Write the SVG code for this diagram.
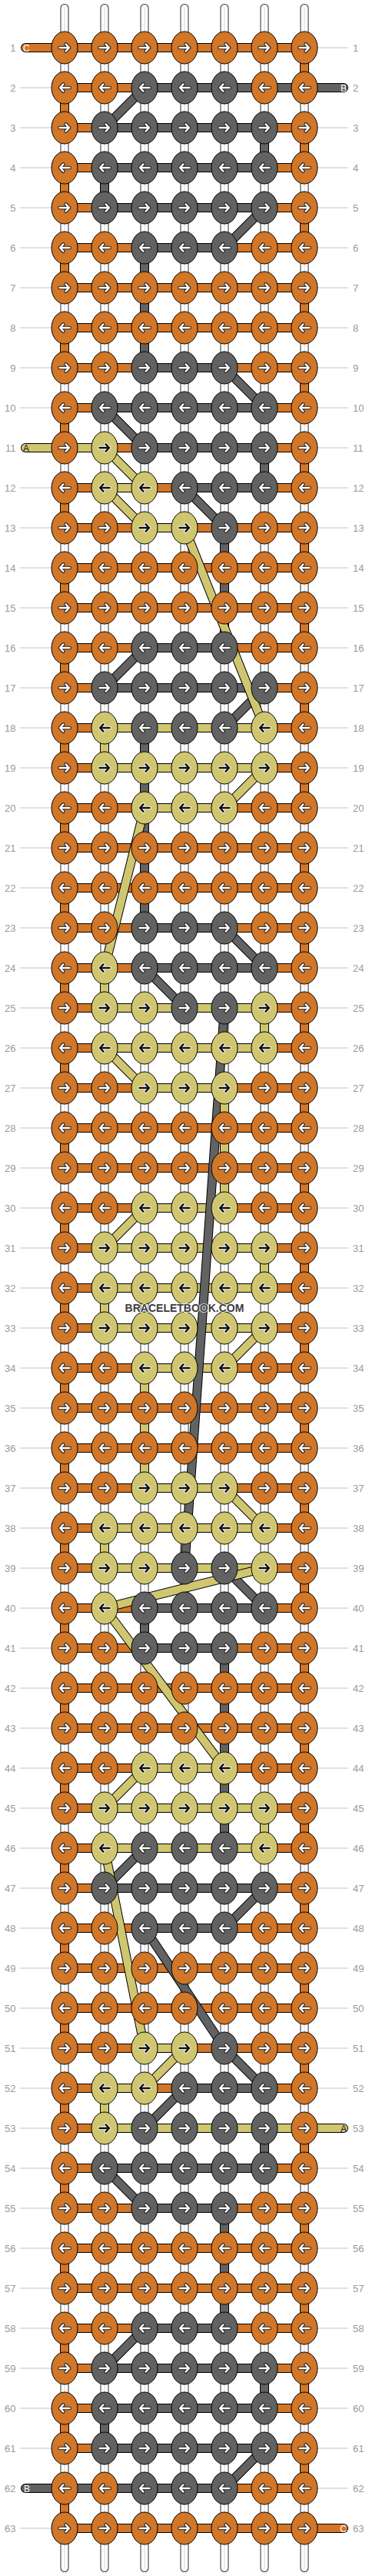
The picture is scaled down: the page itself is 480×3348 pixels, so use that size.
<svg xmlns="http://www.w3.org/2000/svg" width="480" height="3348" viewBox="0 0 480 3348">
<style>
.lbl{font-family:"Liberation Sans",Arial,sans-serif;font-size:13px;fill:#9a9a9a}
.guide{fill:none;stroke:#c4c4c4;stroke-width:1}
.s{fill:none;stroke-linecap:round;stroke-linejoin:round}
.wb{stroke:#2a2a2a;stroke-width:11}
.ww{stroke:#fff;stroke-width:9}
.wc{stroke:#d4d4d4;stroke-width:1}
.ob{stroke:#000;stroke-width:12}
.cO{stroke:#D27628;stroke-width:10}
.cG{stroke:#626262;stroke-width:10}
.cY{stroke:#D0C670;stroke-width:10}
.kO{fill:#D27628;stroke:#000;stroke-width:1}
.kG{fill:#626262;stroke:#000;stroke-width:1}
.kY{fill:#D0C670;stroke:#000;stroke-width:1}
.ao{fill:none;stroke:#1a1a1a;stroke-width:4.6;stroke-linecap:round;stroke-linejoin:round}
.ai{fill:none;stroke:#fff;stroke-width:2.4;stroke-linecap:round;stroke-linejoin:round}
.yo{fill:none;stroke:#fff;stroke-width:4.4;stroke-linecap:round;stroke-linejoin:round}
.yi{fill:none;stroke:#111;stroke-width:2.5;stroke-linecap:round;stroke-linejoin:round}
.tl{font-family:"Liberation Sans",Arial,sans-serif;font-size:12px}
</style>
<defs>
<path id="ar" d="M-6.5,0H6M1.6,-4.6L6,0L1.6,4.6"/>
<path id="al" d="M6.5,0H-6M-1.6,-4.6L-6,0L-1.6,4.6"/>
<g id="OR"><ellipse rx="17" ry="21" class="kO"/><use href="#ar" class="ao"/><use href="#ar" class="ai"/></g>
<g id="OL"><ellipse rx="17" ry="21" class="kO"/><use href="#al" class="ao"/><use href="#al" class="ai"/></g>
<g id="GR"><ellipse rx="17" ry="21" class="kG"/><use href="#ar" class="ao"/><use href="#ar" class="ai"/></g>
<g id="GL"><ellipse rx="17" ry="21" class="kG"/><use href="#al" class="ao"/><use href="#al" class="ai"/></g>
<g id="YR"><ellipse rx="17" ry="21" class="kY"/><use href="#ar" class="yo"/><use href="#ar" class="yi"/></g>
<g id="YL"><ellipse rx="17" ry="21" class="kY"/><use href="#al" class="yo"/><use href="#al" class="yi"/></g>
<path id="pW" d="M84,10.5V3337.5M136,10.5V3337.5M188,10.5V3337.5M240,10.5V3337.5M292,10.5V3337.5M344,10.5V3337.5M396,10.5V3337.5"/>
<path id="pO" d="M33 62H396V114H84V166H396V218H84V270H396V322H84V374H396V426H84V478H396V530H84V582H396V634H84V686H396V738H84V790H396V842H84V894H396V946H84V998H396V1050H84V1102H396V1154H84V1206H396V1258H84V1310H396V1362H84V1414H396V1466H84V1518H396V1570H84V1622H396V1674H84V1726H396V1778H84V1830H396V1882H84V1934H396V1986H84V2038H396V2090H84V2142H396V2194H84V2246H396V2298H84V2350H396V2402H84V2454H396V2506H84V2558H396V2610H84V2662H396V2714H84V2766H396V2818H84V2870H396V2922H84V2974H396V3026H84V3078H396V3130H84V3182H396V3234H84V3286H447"/>
<path id="pGh" d="M447 114H188M136 166H344M344 218H136M136 270H344M292 322H188M188 478H292M344 530H136M188 582H344M344 634H240M292 842H188M136 894H344M292 946H188M188 1206H292M344 1258H188M240 1310H292M240 2038H292M344 2090H188M188 2142H292M292 2402H188M136 2454H344M292 2506H188M344 2714H240M188 2766H344M344 2818H136M188 2870H292M292 3026H188M136 3078H344M344 3130H136M136 3182H344M292 3234H33"/>
<path id="pYh" d="M33 582H136M188 634H136M188 686H240M344 946H136M136 998H344M292 1050H188M136 1310H344M344 1362H136M188 1414H292M292 1570H188M136 1622H344M344 1674H136M136 1726H344M292 1778H188M188 1934H292M344 1986H136M136 2038H344M292 2298H188M136 2350H344M344 2402H136M188 2662H240M188 2714H136M136 2766H447"/>
<path id="pGd" d="M188 114L136 166M344 166V218M136 218V270M344 270L292 322M188 322V478M292 478L344 530M136 530L188 582M344 582V634M240 634L292 686M292 686V842M188 842L136 894M344 894L292 946M188 946V1206M292 1206L344 1258M188 1258L240 1310M292 1310L240 2038M292 2038L344 2090M188 2090V2142M292 2142V2402M188 2402L136 2454M344 2454L292 2506M188 2506L292 2662M292 2662L344 2714M240 2714L188 2766M344 2766V2818M136 2818L188 2870M292 2870V3026M188 3026L136 3078M344 3078V3130M136 3130V3182M344 3182L292 3234"/>
<path id="pYd" d="M136 582L188 634M136 634L188 686M240 686L344 946M136 946V998M344 998L292 1050M188 1050L136 1258M136 1258V1310M344 1310V1362M136 1362L188 1414M292 1414V1570M188 1570L136 1622M344 1622V1674M136 1674V1726M344 1726L292 1778M188 1778V1934M292 1934L344 1986M136 1986V2038M344 2038L136 2090M136 2090L292 2298M188 2298L136 2350M344 2350V2402M136 2402L188 2662M240 2662L188 2714M136 2714V2766"/>
</defs>
<rect width="480" height="3348" fill="#fff"/>
<g id="guides">
<path class="guide" d="M26 114H70M26 166H70M26 218H70M26 270H70M26 322H70M26 374H70M26 426H70M26 478H70M26 530H70M26 634H70M26 686H70M26 738H70M26 790H70M26 842H70M26 894H70M26 946H70M26 998H70M26 1050H70M26 1102H70M26 1154H70M26 1206H70M26 1258H70M26 1310H70M26 1362H70M26 1414H70M26 1466H70M26 1518H70M26 1570H70M26 1622H70M26 1674H70M26 1726H70M26 1778H70M26 1830H70M26 1882H70M26 1934H70M26 1986H70M26 2038H70M26 2090H70M26 2142H70M26 2194H70M26 2246H70M26 2298H70M26 2350H70M26 2402H70M26 2454H70M26 2506H70M26 2558H70M26 2610H70M26 2662H70M26 2714H70M26 2766H70M26 2818H70M26 2870H70M26 2922H70M26 2974H70M26 3026H70M26 3078H70M26 3130H70M26 3182H70M26 3286H70"/>
<path class="guide" d="M410 62H453M410 166H453M410 218H453M410 270H453M410 322H453M410 374H453M410 426H453M410 478H453M410 530H453M410 582H453M410 634H453M410 686H453M410 738H453M410 790H453M410 842H453M410 894H453M410 946H453M410 998H453M410 1050H453M410 1102H453M410 1154H453M410 1206H453M410 1258H453M410 1310H453M410 1362H453M410 1414H453M410 1466H453M410 1518H453M410 1570H453M410 1622H453M410 1674H453M410 1726H453M410 1778H453M410 1830H453M410 1882H453M410 1934H453M410 1986H453M410 2038H453M410 2090H453M410 2142H453M410 2194H453M410 2246H453M410 2298H453M410 2350H453M410 2402H453M410 2454H453M410 2506H453M410 2558H453M410 2610H453M410 2662H453M410 2714H453M410 2818H453M410 2870H453M410 2922H453M410 2974H453M410 3026H453M410 3078H453M410 3130H453M410 3182H453M410 3234H453"/>
</g>
<g id="row-labels" class="lbl">
<g text-anchor="end">
<text x="20.5" y="66.5">1</text><text x="20.5" y="118.5">2</text><text x="20.5" y="170.5">3</text><text x="20.5" y="222.5">4</text><text x="20.5" y="274.5">5</text><text x="20.5" y="326.5">6</text><text x="20.5" y="378.5">7</text><text x="20.5" y="430.5">8</text><text x="20.5" y="482.5">9</text><text x="20.5" y="534.5">10</text><text x="20.5" y="586.5">11</text><text x="20.5" y="638.5">12</text><text x="20.5" y="690.5">13</text><text x="20.5" y="742.5">14</text><text x="20.5" y="794.5">15</text><text x="20.5" y="846.5">16</text><text x="20.5" y="898.5">17</text><text x="20.5" y="950.5">18</text><text x="20.5" y="1002.5">19</text><text x="20.5" y="1054.5">20</text><text x="20.5" y="1106.5">21</text><text x="20.5" y="1158.5">22</text><text x="20.5" y="1210.5">23</text><text x="20.5" y="1262.5">24</text><text x="20.5" y="1314.5">25</text><text x="20.5" y="1366.5">26</text><text x="20.5" y="1418.5">27</text><text x="20.5" y="1470.5">28</text><text x="20.5" y="1522.5">29</text><text x="20.5" y="1574.5">30</text><text x="20.5" y="1626.5">31</text><text x="20.5" y="1678.5">32</text><text x="20.5" y="1730.5">33</text><text x="20.5" y="1782.5">34</text><text x="20.5" y="1834.5">35</text><text x="20.5" y="1886.5">36</text><text x="20.5" y="1938.5">37</text><text x="20.5" y="1990.5">38</text><text x="20.5" y="2042.5">39</text><text x="20.5" y="2094.5">40</text><text x="20.5" y="2146.5">41</text><text x="20.5" y="2198.5">42</text><text x="20.5" y="2250.5">43</text><text x="20.5" y="2302.5">44</text><text x="20.5" y="2354.5">45</text><text x="20.5" y="2406.5">46</text><text x="20.5" y="2458.5">47</text><text x="20.5" y="2510.5">48</text><text x="20.5" y="2562.5">49</text><text x="20.5" y="2614.5">50</text><text x="20.5" y="2666.5">51</text><text x="20.5" y="2718.5">52</text><text x="20.5" y="2770.5">53</text><text x="20.5" y="2822.5">54</text><text x="20.5" y="2874.5">55</text><text x="20.5" y="2926.5">56</text><text x="20.5" y="2978.5">57</text><text x="20.5" y="3030.5">58</text><text x="20.5" y="3082.5">59</text><text x="20.5" y="3134.5">60</text><text x="20.5" y="3186.5">61</text><text x="20.5" y="3238.5">62</text><text x="20.5" y="3290.5">63</text>
</g>
<g text-anchor="start">
<text x="459" y="66.5">1</text><text x="459" y="118.5">2</text><text x="459" y="170.5">3</text><text x="459" y="222.5">4</text><text x="459" y="274.5">5</text><text x="459" y="326.5">6</text><text x="459" y="378.5">7</text><text x="459" y="430.5">8</text><text x="459" y="482.5">9</text><text x="459" y="534.5">10</text><text x="459" y="586.5">11</text><text x="459" y="638.5">12</text><text x="459" y="690.5">13</text><text x="459" y="742.5">14</text><text x="459" y="794.5">15</text><text x="459" y="846.5">16</text><text x="459" y="898.5">17</text><text x="459" y="950.5">18</text><text x="459" y="1002.5">19</text><text x="459" y="1054.5">20</text><text x="459" y="1106.5">21</text><text x="459" y="1158.5">22</text><text x="459" y="1210.5">23</text><text x="459" y="1262.5">24</text><text x="459" y="1314.5">25</text><text x="459" y="1366.5">26</text><text x="459" y="1418.5">27</text><text x="459" y="1470.5">28</text><text x="459" y="1522.5">29</text><text x="459" y="1574.5">30</text><text x="459" y="1626.5">31</text><text x="459" y="1678.5">32</text><text x="459" y="1730.5">33</text><text x="459" y="1782.5">34</text><text x="459" y="1834.5">35</text><text x="459" y="1886.5">36</text><text x="459" y="1938.5">37</text><text x="459" y="1990.5">38</text><text x="459" y="2042.5">39</text><text x="459" y="2094.5">40</text><text x="459" y="2146.5">41</text><text x="459" y="2198.5">42</text><text x="459" y="2250.5">43</text><text x="459" y="2302.5">44</text><text x="459" y="2354.5">45</text><text x="459" y="2406.5">46</text><text x="459" y="2458.5">47</text><text x="459" y="2510.5">48</text><text x="459" y="2562.5">49</text><text x="459" y="2614.5">50</text><text x="459" y="2666.5">51</text><text x="459" y="2718.5">52</text><text x="459" y="2770.5">53</text><text x="459" y="2822.5">54</text><text x="459" y="2874.5">55</text><text x="459" y="2926.5">56</text><text x="459" y="2978.5">57</text><text x="459" y="3030.5">58</text><text x="459" y="3082.5">59</text><text x="459" y="3134.5">60</text><text x="459" y="3186.5">61</text><text x="459" y="3238.5">62</text><text x="459" y="3290.5">63</text>
</g>
</g>
<g id="connectors">
<g id="warp"><use href="#pW" class="s wb"/><use href="#pW" class="s ww"/><use href="#pW" class="s wc"/></g>
<g id="string-C"><use href="#pO" class="s ob"/><use href="#pO" class="s cO"/></g>
<g id="string-B-rows"><use href="#pGh" class="s ob"/><use href="#pGh" class="s cG"/></g>
<g id="string-A-rows"><use href="#pYh" class="s ob"/><use href="#pYh" class="s cY"/></g>
<g id="string-B-jumps"><use href="#pGd" class="s ob"/><use href="#pGd" class="s cG"/></g>
<g id="string-A-jumps"><use href="#pYd" class="s ob"/><use href="#pYd" class="s cY"/></g>
</g>
<g id="tail-labels" class="tl">
<text x="30" y="66.5" fill="#fff">C</text>
<text x="451" y="118.5" fill="#fff" text-anchor="end">B</text>
<text x="30" y="586.5" fill="#222">A</text>
<text x="451" y="2770.5" fill="#222" text-anchor="end">A</text>
<text x="31" y="3238.5" fill="#fff">B</text>
<text x="451" y="3290.5" fill="#fff" text-anchor="end">C</text>
</g>
<g id="knots">
<g id="k1-1"><use href="#OR" x="84" y="62"/></g><g id="k1-2"><use href="#OR" x="136" y="62"/></g><g id="k1-3"><use href="#OR" x="188" y="62"/></g><g id="k1-4"><use href="#OR" x="240" y="62"/></g><g id="k1-5"><use href="#OR" x="292" y="62"/></g><g id="k1-6"><use href="#OR" x="344" y="62"/></g><g id="k1-7"><use href="#OR" x="396" y="62"/></g>
<g id="k2-1"><use href="#OL" x="84" y="114"/></g><g id="k2-2"><use href="#OL" x="136" y="114"/></g><g id="k2-3"><use href="#GL" x="188" y="114"/></g><g id="k2-4"><use href="#GL" x="240" y="114"/></g><g id="k2-5"><use href="#GL" x="292" y="114"/></g><g id="k2-6"><use href="#OL" x="344" y="114"/></g><g id="k2-7"><use href="#OL" x="396" y="114"/></g>
<g id="k3-1"><use href="#OR" x="84" y="166"/></g><g id="k3-2"><use href="#GR" x="136" y="166"/></g><g id="k3-3"><use href="#GR" x="188" y="166"/></g><g id="k3-4"><use href="#GR" x="240" y="166"/></g><g id="k3-5"><use href="#GR" x="292" y="166"/></g><g id="k3-6"><use href="#GR" x="344" y="166"/></g><g id="k3-7"><use href="#OR" x="396" y="166"/></g>
<g id="k4-1"><use href="#OL" x="84" y="218"/></g><g id="k4-2"><use href="#GL" x="136" y="218"/></g><g id="k4-3"><use href="#GL" x="188" y="218"/></g><g id="k4-4"><use href="#GL" x="240" y="218"/></g><g id="k4-5"><use href="#GL" x="292" y="218"/></g><g id="k4-6"><use href="#GL" x="344" y="218"/></g><g id="k4-7"><use href="#OL" x="396" y="218"/></g>
<g id="k5-1"><use href="#OR" x="84" y="270"/></g><g id="k5-2"><use href="#GR" x="136" y="270"/></g><g id="k5-3"><use href="#GR" x="188" y="270"/></g><g id="k5-4"><use href="#GR" x="240" y="270"/></g><g id="k5-5"><use href="#GR" x="292" y="270"/></g><g id="k5-6"><use href="#GR" x="344" y="270"/></g><g id="k5-7"><use href="#OR" x="396" y="270"/></g>
<g id="k6-1"><use href="#OL" x="84" y="322"/></g><g id="k6-2"><use href="#OL" x="136" y="322"/></g><g id="k6-3"><use href="#GL" x="188" y="322"/></g><g id="k6-4"><use href="#GL" x="240" y="322"/></g><g id="k6-5"><use href="#GL" x="292" y="322"/></g><g id="k6-6"><use href="#OL" x="344" y="322"/></g><g id="k6-7"><use href="#OL" x="396" y="322"/></g>
<g id="k7-1"><use href="#OR" x="84" y="374"/></g><g id="k7-2"><use href="#OR" x="136" y="374"/></g><g id="k7-3"><use href="#OR" x="188" y="374"/></g><g id="k7-4"><use href="#OR" x="240" y="374"/></g><g id="k7-5"><use href="#OR" x="292" y="374"/></g><g id="k7-6"><use href="#OR" x="344" y="374"/></g><g id="k7-7"><use href="#OR" x="396" y="374"/></g>
<g id="k8-1"><use href="#OL" x="84" y="426"/></g><g id="k8-2"><use href="#OL" x="136" y="426"/></g><g id="k8-3"><use href="#OL" x="188" y="426"/></g><g id="k8-4"><use href="#OL" x="240" y="426"/></g><g id="k8-5"><use href="#OL" x="292" y="426"/></g><g id="k8-6"><use href="#OL" x="344" y="426"/></g><g id="k8-7"><use href="#OL" x="396" y="426"/></g>
<g id="k9-1"><use href="#OR" x="84" y="478"/></g><g id="k9-2"><use href="#OR" x="136" y="478"/></g><g id="k9-3"><use href="#GR" x="188" y="478"/></g><g id="k9-4"><use href="#GR" x="240" y="478"/></g><g id="k9-5"><use href="#GR" x="292" y="478"/></g><g id="k9-6"><use href="#OR" x="344" y="478"/></g><g id="k9-7"><use href="#OR" x="396" y="478"/></g>
<g id="k10-1"><use href="#OL" x="84" y="530"/></g><g id="k10-2"><use href="#GL" x="136" y="530"/></g><g id="k10-3"><use href="#GL" x="188" y="530"/></g><g id="k10-4"><use href="#GL" x="240" y="530"/></g><g id="k10-5"><use href="#GL" x="292" y="530"/></g><g id="k10-6"><use href="#GL" x="344" y="530"/></g><g id="k10-7"><use href="#OL" x="396" y="530"/></g>
<g id="k11-1"><use href="#OR" x="84" y="582"/></g><g id="k11-2"><use href="#YR" x="136" y="582"/></g><g id="k11-3"><use href="#GR" x="188" y="582"/></g><g id="k11-4"><use href="#GR" x="240" y="582"/></g><g id="k11-5"><use href="#GR" x="292" y="582"/></g><g id="k11-6"><use href="#GR" x="344" y="582"/></g><g id="k11-7"><use href="#OR" x="396" y="582"/></g>
<g id="k12-1"><use href="#OL" x="84" y="634"/></g><g id="k12-2"><use href="#YL" x="136" y="634"/></g><g id="k12-3"><use href="#YL" x="188" y="634"/></g><g id="k12-4"><use href="#GL" x="240" y="634"/></g><g id="k12-5"><use href="#GL" x="292" y="634"/></g><g id="k12-6"><use href="#GL" x="344" y="634"/></g><g id="k12-7"><use href="#OL" x="396" y="634"/></g>
<g id="k13-1"><use href="#OR" x="84" y="686"/></g><g id="k13-2"><use href="#OR" x="136" y="686"/></g><g id="k13-3"><use href="#YR" x="188" y="686"/></g><g id="k13-4"><use href="#YR" x="240" y="686"/></g><g id="k13-5"><use href="#GR" x="292" y="686"/></g><g id="k13-6"><use href="#OR" x="344" y="686"/></g><g id="k13-7"><use href="#OR" x="396" y="686"/></g>
<g id="k14-1"><use href="#OL" x="84" y="738"/></g><g id="k14-2"><use href="#OL" x="136" y="738"/></g><g id="k14-3"><use href="#OL" x="188" y="738"/></g><g id="k14-4"><use href="#OL" x="240" y="738"/></g><g id="k14-5"><use href="#OL" x="292" y="738"/></g><g id="k14-6"><use href="#OL" x="344" y="738"/></g><g id="k14-7"><use href="#OL" x="396" y="738"/></g>
<g id="k15-1"><use href="#OR" x="84" y="790"/></g><g id="k15-2"><use href="#OR" x="136" y="790"/></g><g id="k15-3"><use href="#OR" x="188" y="790"/></g><g id="k15-4"><use href="#OR" x="240" y="790"/></g><g id="k15-5"><use href="#OR" x="292" y="790"/></g><g id="k15-6"><use href="#OR" x="344" y="790"/></g><g id="k15-7"><use href="#OR" x="396" y="790"/></g>
<g id="k16-1"><use href="#OL" x="84" y="842"/></g><g id="k16-2"><use href="#OL" x="136" y="842"/></g><g id="k16-3"><use href="#GL" x="188" y="842"/></g><g id="k16-4"><use href="#GL" x="240" y="842"/></g><g id="k16-5"><use href="#GL" x="292" y="842"/></g><g id="k16-6"><use href="#OL" x="344" y="842"/></g><g id="k16-7"><use href="#OL" x="396" y="842"/></g>
<g id="k17-1"><use href="#OR" x="84" y="894"/></g><g id="k17-2"><use href="#GR" x="136" y="894"/></g><g id="k17-3"><use href="#GR" x="188" y="894"/></g><g id="k17-4"><use href="#GR" x="240" y="894"/></g><g id="k17-5"><use href="#GR" x="292" y="894"/></g><g id="k17-6"><use href="#GR" x="344" y="894"/></g><g id="k17-7"><use href="#OR" x="396" y="894"/></g>
<g id="k18-1"><use href="#OL" x="84" y="946"/></g><g id="k18-2"><use href="#YL" x="136" y="946"/></g><g id="k18-3"><use href="#GL" x="188" y="946"/></g><g id="k18-4"><use href="#GL" x="240" y="946"/></g><g id="k18-5"><use href="#GL" x="292" y="946"/></g><g id="k18-6"><use href="#YL" x="344" y="946"/></g><g id="k18-7"><use href="#OL" x="396" y="946"/></g>
<g id="k19-1"><use href="#OR" x="84" y="998"/></g><g id="k19-2"><use href="#YR" x="136" y="998"/></g><g id="k19-3"><use href="#YR" x="188" y="998"/></g><g id="k19-4"><use href="#YR" x="240" y="998"/></g><g id="k19-5"><use href="#YR" x="292" y="998"/></g><g id="k19-6"><use href="#YR" x="344" y="998"/></g><g id="k19-7"><use href="#OR" x="396" y="998"/></g>
<g id="k20-1"><use href="#OL" x="84" y="1050"/></g><g id="k20-2"><use href="#OL" x="136" y="1050"/></g><g id="k20-3"><use href="#YL" x="188" y="1050"/></g><g id="k20-4"><use href="#YL" x="240" y="1050"/></g><g id="k20-5"><use href="#YL" x="292" y="1050"/></g><g id="k20-6"><use href="#OL" x="344" y="1050"/></g><g id="k20-7"><use href="#OL" x="396" y="1050"/></g>
<g id="k21-1"><use href="#OR" x="84" y="1102"/></g><g id="k21-2"><use href="#OR" x="136" y="1102"/></g><g id="k21-3"><use href="#OR" x="188" y="1102"/></g><g id="k21-4"><use href="#OR" x="240" y="1102"/></g><g id="k21-5"><use href="#OR" x="292" y="1102"/></g><g id="k21-6"><use href="#OR" x="344" y="1102"/></g><g id="k21-7"><use href="#OR" x="396" y="1102"/></g>
<g id="k22-1"><use href="#OL" x="84" y="1154"/></g><g id="k22-2"><use href="#OL" x="136" y="1154"/></g><g id="k22-3"><use href="#OL" x="188" y="1154"/></g><g id="k22-4"><use href="#OL" x="240" y="1154"/></g><g id="k22-5"><use href="#OL" x="292" y="1154"/></g><g id="k22-6"><use href="#OL" x="344" y="1154"/></g><g id="k22-7"><use href="#OL" x="396" y="1154"/></g>
<g id="k23-1"><use href="#OR" x="84" y="1206"/></g><g id="k23-2"><use href="#OR" x="136" y="1206"/></g><g id="k23-3"><use href="#GR" x="188" y="1206"/></g><g id="k23-4"><use href="#GR" x="240" y="1206"/></g><g id="k23-5"><use href="#GR" x="292" y="1206"/></g><g id="k23-6"><use href="#OR" x="344" y="1206"/></g><g id="k23-7"><use href="#OR" x="396" y="1206"/></g>
<g id="k24-1"><use href="#OL" x="84" y="1258"/></g><g id="k24-2"><use href="#YL" x="136" y="1258"/></g><g id="k24-3"><use href="#GL" x="188" y="1258"/></g><g id="k24-4"><use href="#GL" x="240" y="1258"/></g><g id="k24-5"><use href="#GL" x="292" y="1258"/></g><g id="k24-6"><use href="#GL" x="344" y="1258"/></g><g id="k24-7"><use href="#OL" x="396" y="1258"/></g>
<g id="k25-1"><use href="#OR" x="84" y="1310"/></g><g id="k25-2"><use href="#YR" x="136" y="1310"/></g><g id="k25-3"><use href="#YR" x="188" y="1310"/></g><g id="k25-4"><use href="#GR" x="240" y="1310"/></g><g id="k25-5"><use href="#GR" x="292" y="1310"/></g><g id="k25-6"><use href="#YR" x="344" y="1310"/></g><g id="k25-7"><use href="#OR" x="396" y="1310"/></g>
<g id="k26-1"><use href="#OL" x="84" y="1362"/></g><g id="k26-2"><use href="#YL" x="136" y="1362"/></g><g id="k26-3"><use href="#YL" x="188" y="1362"/></g><g id="k26-4"><use href="#YL" x="240" y="1362"/></g><g id="k26-5"><use href="#YL" x="292" y="1362"/></g><g id="k26-6"><use href="#YL" x="344" y="1362"/></g><g id="k26-7"><use href="#OL" x="396" y="1362"/></g>
<g id="k27-1"><use href="#OR" x="84" y="1414"/></g><g id="k27-2"><use href="#OR" x="136" y="1414"/></g><g id="k27-3"><use href="#YR" x="188" y="1414"/></g><g id="k27-4"><use href="#YR" x="240" y="1414"/></g><g id="k27-5"><use href="#YR" x="292" y="1414"/></g><g id="k27-6"><use href="#OR" x="344" y="1414"/></g><g id="k27-7"><use href="#OR" x="396" y="1414"/></g>
<g id="k28-1"><use href="#OL" x="84" y="1466"/></g><g id="k28-2"><use href="#OL" x="136" y="1466"/></g><g id="k28-3"><use href="#OL" x="188" y="1466"/></g><g id="k28-4"><use href="#OL" x="240" y="1466"/></g><g id="k28-5"><use href="#OL" x="292" y="1466"/></g><g id="k28-6"><use href="#OL" x="344" y="1466"/></g><g id="k28-7"><use href="#OL" x="396" y="1466"/></g>
<g id="k29-1"><use href="#OR" x="84" y="1518"/></g><g id="k29-2"><use href="#OR" x="136" y="1518"/></g><g id="k29-3"><use href="#OR" x="188" y="1518"/></g><g id="k29-4"><use href="#OR" x="240" y="1518"/></g><g id="k29-5"><use href="#OR" x="292" y="1518"/></g><g id="k29-6"><use href="#OR" x="344" y="1518"/></g><g id="k29-7"><use href="#OR" x="396" y="1518"/></g>
<g id="k30-1"><use href="#OL" x="84" y="1570"/></g><g id="k30-2"><use href="#OL" x="136" y="1570"/></g><g id="k30-3"><use href="#YL" x="188" y="1570"/></g><g id="k30-4"><use href="#YL" x="240" y="1570"/></g><g id="k30-5"><use href="#YL" x="292" y="1570"/></g><g id="k30-6"><use href="#OL" x="344" y="1570"/></g><g id="k30-7"><use href="#OL" x="396" y="1570"/></g>
<g id="k31-1"><use href="#OR" x="84" y="1622"/></g><g id="k31-2"><use href="#YR" x="136" y="1622"/></g><g id="k31-3"><use href="#YR" x="188" y="1622"/></g><g id="k31-4"><use href="#YR" x="240" y="1622"/></g><g id="k31-5"><use href="#YR" x="292" y="1622"/></g><g id="k31-6"><use href="#YR" x="344" y="1622"/></g><g id="k31-7"><use href="#OR" x="396" y="1622"/></g>
<g id="k32-1"><use href="#OL" x="84" y="1674"/></g><g id="k32-2"><use href="#YL" x="136" y="1674"/></g><g id="k32-3"><use href="#YL" x="188" y="1674"/></g><g id="k32-4"><use href="#YL" x="240" y="1674"/></g><g id="k32-5"><use href="#YL" x="292" y="1674"/></g><g id="k32-6"><use href="#YL" x="344" y="1674"/></g><g id="k32-7"><use href="#OL" x="396" y="1674"/></g>
<g id="k33-1"><use href="#OR" x="84" y="1726"/></g><g id="k33-2"><use href="#YR" x="136" y="1726"/></g><g id="k33-3"><use href="#YR" x="188" y="1726"/></g><g id="k33-4"><use href="#YR" x="240" y="1726"/></g><g id="k33-5"><use href="#YR" x="292" y="1726"/></g><g id="k33-6"><use href="#YR" x="344" y="1726"/></g><g id="k33-7"><use href="#OR" x="396" y="1726"/></g>
<g id="k34-1"><use href="#OL" x="84" y="1778"/></g><g id="k34-2"><use href="#OL" x="136" y="1778"/></g><g id="k34-3"><use href="#YL" x="188" y="1778"/></g><g id="k34-4"><use href="#YL" x="240" y="1778"/></g><g id="k34-5"><use href="#YL" x="292" y="1778"/></g><g id="k34-6"><use href="#OL" x="344" y="1778"/></g><g id="k34-7"><use href="#OL" x="396" y="1778"/></g>
<g id="k35-1"><use href="#OR" x="84" y="1830"/></g><g id="k35-2"><use href="#OR" x="136" y="1830"/></g><g id="k35-3"><use href="#OR" x="188" y="1830"/></g><g id="k35-4"><use href="#OR" x="240" y="1830"/></g><g id="k35-5"><use href="#OR" x="292" y="1830"/></g><g id="k35-6"><use href="#OR" x="344" y="1830"/></g><g id="k35-7"><use href="#OR" x="396" y="1830"/></g>
<g id="k36-1"><use href="#OL" x="84" y="1882"/></g><g id="k36-2"><use href="#OL" x="136" y="1882"/></g><g id="k36-3"><use href="#OL" x="188" y="1882"/></g><g id="k36-4"><use href="#OL" x="240" y="1882"/></g><g id="k36-5"><use href="#OL" x="292" y="1882"/></g><g id="k36-6"><use href="#OL" x="344" y="1882"/></g><g id="k36-7"><use href="#OL" x="396" y="1882"/></g>
<g id="k37-1"><use href="#OR" x="84" y="1934"/></g><g id="k37-2"><use href="#OR" x="136" y="1934"/></g><g id="k37-3"><use href="#YR" x="188" y="1934"/></g><g id="k37-4"><use href="#YR" x="240" y="1934"/></g><g id="k37-5"><use href="#YR" x="292" y="1934"/></g><g id="k37-6"><use href="#OR" x="344" y="1934"/></g><g id="k37-7"><use href="#OR" x="396" y="1934"/></g>
<g id="k38-1"><use href="#OL" x="84" y="1986"/></g><g id="k38-2"><use href="#YL" x="136" y="1986"/></g><g id="k38-3"><use href="#YL" x="188" y="1986"/></g><g id="k38-4"><use href="#YL" x="240" y="1986"/></g><g id="k38-5"><use href="#YL" x="292" y="1986"/></g><g id="k38-6"><use href="#YL" x="344" y="1986"/></g><g id="k38-7"><use href="#OL" x="396" y="1986"/></g>
<g id="k39-1"><use href="#OR" x="84" y="2038"/></g><g id="k39-2"><use href="#YR" x="136" y="2038"/></g><g id="k39-3"><use href="#YR" x="188" y="2038"/></g><g id="k39-4"><use href="#GR" x="240" y="2038"/></g><g id="k39-5"><use href="#GR" x="292" y="2038"/></g><g id="k39-6"><use href="#YR" x="344" y="2038"/></g><g id="k39-7"><use href="#OR" x="396" y="2038"/></g>
<g id="k40-1"><use href="#OL" x="84" y="2090"/></g><g id="k40-2"><use href="#YL" x="136" y="2090"/></g><g id="k40-3"><use href="#GL" x="188" y="2090"/></g><g id="k40-4"><use href="#GL" x="240" y="2090"/></g><g id="k40-5"><use href="#GL" x="292" y="2090"/></g><g id="k40-6"><use href="#GL" x="344" y="2090"/></g><g id="k40-7"><use href="#OL" x="396" y="2090"/></g>
<g id="k41-1"><use href="#OR" x="84" y="2142"/></g><g id="k41-2"><use href="#OR" x="136" y="2142"/></g><g id="k41-3"><use href="#GR" x="188" y="2142"/></g><g id="k41-4"><use href="#GR" x="240" y="2142"/></g><g id="k41-5"><use href="#GR" x="292" y="2142"/></g><g id="k41-6"><use href="#OR" x="344" y="2142"/></g><g id="k41-7"><use href="#OR" x="396" y="2142"/></g>
<g id="k42-1"><use href="#OL" x="84" y="2194"/></g><g id="k42-2"><use href="#OL" x="136" y="2194"/></g><g id="k42-3"><use href="#OL" x="188" y="2194"/></g><g id="k42-4"><use href="#OL" x="240" y="2194"/></g><g id="k42-5"><use href="#OL" x="292" y="2194"/></g><g id="k42-6"><use href="#OL" x="344" y="2194"/></g><g id="k42-7"><use href="#OL" x="396" y="2194"/></g>
<g id="k43-1"><use href="#OR" x="84" y="2246"/></g><g id="k43-2"><use href="#OR" x="136" y="2246"/></g><g id="k43-3"><use href="#OR" x="188" y="2246"/></g><g id="k43-4"><use href="#OR" x="240" y="2246"/></g><g id="k43-5"><use href="#OR" x="292" y="2246"/></g><g id="k43-6"><use href="#OR" x="344" y="2246"/></g><g id="k43-7"><use href="#OR" x="396" y="2246"/></g>
<g id="k44-1"><use href="#OL" x="84" y="2298"/></g><g id="k44-2"><use href="#OL" x="136" y="2298"/></g><g id="k44-3"><use href="#YL" x="188" y="2298"/></g><g id="k44-4"><use href="#YL" x="240" y="2298"/></g><g id="k44-5"><use href="#YL" x="292" y="2298"/></g><g id="k44-6"><use href="#OL" x="344" y="2298"/></g><g id="k44-7"><use href="#OL" x="396" y="2298"/></g>
<g id="k45-1"><use href="#OR" x="84" y="2350"/></g><g id="k45-2"><use href="#YR" x="136" y="2350"/></g><g id="k45-3"><use href="#YR" x="188" y="2350"/></g><g id="k45-4"><use href="#YR" x="240" y="2350"/></g><g id="k45-5"><use href="#YR" x="292" y="2350"/></g><g id="k45-6"><use href="#YR" x="344" y="2350"/></g><g id="k45-7"><use href="#OR" x="396" y="2350"/></g>
<g id="k46-1"><use href="#OL" x="84" y="2402"/></g><g id="k46-2"><use href="#YL" x="136" y="2402"/></g><g id="k46-3"><use href="#GL" x="188" y="2402"/></g><g id="k46-4"><use href="#GL" x="240" y="2402"/></g><g id="k46-5"><use href="#GL" x="292" y="2402"/></g><g id="k46-6"><use href="#YL" x="344" y="2402"/></g><g id="k46-7"><use href="#OL" x="396" y="2402"/></g>
<g id="k47-1"><use href="#OR" x="84" y="2454"/></g><g id="k47-2"><use href="#GR" x="136" y="2454"/></g><g id="k47-3"><use href="#GR" x="188" y="2454"/></g><g id="k47-4"><use href="#GR" x="240" y="2454"/></g><g id="k47-5"><use href="#GR" x="292" y="2454"/></g><g id="k47-6"><use href="#GR" x="344" y="2454"/></g><g id="k47-7"><use href="#OR" x="396" y="2454"/></g>
<g id="k48-1"><use href="#OL" x="84" y="2506"/></g><g id="k48-2"><use href="#OL" x="136" y="2506"/></g><g id="k48-3"><use href="#GL" x="188" y="2506"/></g><g id="k48-4"><use href="#GL" x="240" y="2506"/></g><g id="k48-5"><use href="#GL" x="292" y="2506"/></g><g id="k48-6"><use href="#OL" x="344" y="2506"/></g><g id="k48-7"><use href="#OL" x="396" y="2506"/></g>
<g id="k49-1"><use href="#OR" x="84" y="2558"/></g><g id="k49-2"><use href="#OR" x="136" y="2558"/></g><g id="k49-3"><use href="#OR" x="188" y="2558"/></g><g id="k49-4"><use href="#OR" x="240" y="2558"/></g><g id="k49-5"><use href="#OR" x="292" y="2558"/></g><g id="k49-6"><use href="#OR" x="344" y="2558"/></g><g id="k49-7"><use href="#OR" x="396" y="2558"/></g>
<g id="k50-1"><use href="#OL" x="84" y="2610"/></g><g id="k50-2"><use href="#OL" x="136" y="2610"/></g><g id="k50-3"><use href="#OL" x="188" y="2610"/></g><g id="k50-4"><use href="#OL" x="240" y="2610"/></g><g id="k50-5"><use href="#OL" x="292" y="2610"/></g><g id="k50-6"><use href="#OL" x="344" y="2610"/></g><g id="k50-7"><use href="#OL" x="396" y="2610"/></g>
<g id="k51-1"><use href="#OR" x="84" y="2662"/></g><g id="k51-2"><use href="#OR" x="136" y="2662"/></g><g id="k51-3"><use href="#YR" x="188" y="2662"/></g><g id="k51-4"><use href="#YR" x="240" y="2662"/></g><g id="k51-5"><use href="#GR" x="292" y="2662"/></g><g id="k51-6"><use href="#OR" x="344" y="2662"/></g><g id="k51-7"><use href="#OR" x="396" y="2662"/></g>
<g id="k52-1"><use href="#OL" x="84" y="2714"/></g><g id="k52-2"><use href="#YL" x="136" y="2714"/></g><g id="k52-3"><use href="#YL" x="188" y="2714"/></g><g id="k52-4"><use href="#GL" x="240" y="2714"/></g><g id="k52-5"><use href="#GL" x="292" y="2714"/></g><g id="k52-6"><use href="#GL" x="344" y="2714"/></g><g id="k52-7"><use href="#OL" x="396" y="2714"/></g>
<g id="k53-1"><use href="#OR" x="84" y="2766"/></g><g id="k53-2"><use href="#YR" x="136" y="2766"/></g><g id="k53-3"><use href="#GR" x="188" y="2766"/></g><g id="k53-4"><use href="#GR" x="240" y="2766"/></g><g id="k53-5"><use href="#GR" x="292" y="2766"/></g><g id="k53-6"><use href="#GR" x="344" y="2766"/></g><g id="k53-7"><use href="#OR" x="396" y="2766"/></g>
<g id="k54-1"><use href="#OL" x="84" y="2818"/></g><g id="k54-2"><use href="#GL" x="136" y="2818"/></g><g id="k54-3"><use href="#GL" x="188" y="2818"/></g><g id="k54-4"><use href="#GL" x="240" y="2818"/></g><g id="k54-5"><use href="#GL" x="292" y="2818"/></g><g id="k54-6"><use href="#GL" x="344" y="2818"/></g><g id="k54-7"><use href="#OL" x="396" y="2818"/></g>
<g id="k55-1"><use href="#OR" x="84" y="2870"/></g><g id="k55-2"><use href="#OR" x="136" y="2870"/></g><g id="k55-3"><use href="#GR" x="188" y="2870"/></g><g id="k55-4"><use href="#GR" x="240" y="2870"/></g><g id="k55-5"><use href="#GR" x="292" y="2870"/></g><g id="k55-6"><use href="#OR" x="344" y="2870"/></g><g id="k55-7"><use href="#OR" x="396" y="2870"/></g>
<g id="k56-1"><use href="#OL" x="84" y="2922"/></g><g id="k56-2"><use href="#OL" x="136" y="2922"/></g><g id="k56-3"><use href="#OL" x="188" y="2922"/></g><g id="k56-4"><use href="#OL" x="240" y="2922"/></g><g id="k56-5"><use href="#OL" x="292" y="2922"/></g><g id="k56-6"><use href="#OL" x="344" y="2922"/></g><g id="k56-7"><use href="#OL" x="396" y="2922"/></g>
<g id="k57-1"><use href="#OR" x="84" y="2974"/></g><g id="k57-2"><use href="#OR" x="136" y="2974"/></g><g id="k57-3"><use href="#OR" x="188" y="2974"/></g><g id="k57-4"><use href="#OR" x="240" y="2974"/></g><g id="k57-5"><use href="#OR" x="292" y="2974"/></g><g id="k57-6"><use href="#OR" x="344" y="2974"/></g><g id="k57-7"><use href="#OR" x="396" y="2974"/></g>
<g id="k58-1"><use href="#OL" x="84" y="3026"/></g><g id="k58-2"><use href="#OL" x="136" y="3026"/></g><g id="k58-3"><use href="#GL" x="188" y="3026"/></g><g id="k58-4"><use href="#GL" x="240" y="3026"/></g><g id="k58-5"><use href="#GL" x="292" y="3026"/></g><g id="k58-6"><use href="#OL" x="344" y="3026"/></g><g id="k58-7"><use href="#OL" x="396" y="3026"/></g>
<g id="k59-1"><use href="#OR" x="84" y="3078"/></g><g id="k59-2"><use href="#GR" x="136" y="3078"/></g><g id="k59-3"><use href="#GR" x="188" y="3078"/></g><g id="k59-4"><use href="#GR" x="240" y="3078"/></g><g id="k59-5"><use href="#GR" x="292" y="3078"/></g><g id="k59-6"><use href="#GR" x="344" y="3078"/></g><g id="k59-7"><use href="#OR" x="396" y="3078"/></g>
<g id="k60-1"><use href="#OL" x="84" y="3130"/></g><g id="k60-2"><use href="#GL" x="136" y="3130"/></g><g id="k60-3"><use href="#GL" x="188" y="3130"/></g><g id="k60-4"><use href="#GL" x="240" y="3130"/></g><g id="k60-5"><use href="#GL" x="292" y="3130"/></g><g id="k60-6"><use href="#GL" x="344" y="3130"/></g><g id="k60-7"><use href="#OL" x="396" y="3130"/></g>
<g id="k61-1"><use href="#OR" x="84" y="3182"/></g><g id="k61-2"><use href="#GR" x="136" y="3182"/></g><g id="k61-3"><use href="#GR" x="188" y="3182"/></g><g id="k61-4"><use href="#GR" x="240" y="3182"/></g><g id="k61-5"><use href="#GR" x="292" y="3182"/></g><g id="k61-6"><use href="#GR" x="344" y="3182"/></g><g id="k61-7"><use href="#OR" x="396" y="3182"/></g>
<g id="k62-1"><use href="#OL" x="84" y="3234"/></g><g id="k62-2"><use href="#OL" x="136" y="3234"/></g><g id="k62-3"><use href="#GL" x="188" y="3234"/></g><g id="k62-4"><use href="#GL" x="240" y="3234"/></g><g id="k62-5"><use href="#GL" x="292" y="3234"/></g><g id="k62-6"><use href="#OL" x="344" y="3234"/></g><g id="k62-7"><use href="#OL" x="396" y="3234"/></g>
<g id="k63-1"><use href="#OR" x="84" y="3286"/></g><g id="k63-2"><use href="#OR" x="136" y="3286"/></g><g id="k63-3"><use href="#OR" x="188" y="3286"/></g><g id="k63-4"><use href="#OR" x="240" y="3286"/></g><g id="k63-5"><use href="#OR" x="292" y="3286"/></g><g id="k63-6"><use href="#OR" x="344" y="3286"/></g><g id="k63-7"><use href="#OR" x="396" y="3286"/></g>
</g>
<text id="watermark" x="240" y="1705" text-anchor="middle" font-family="'Liberation Sans',Arial,sans-serif" font-weight="bold" font-size="14" fill="#3c3c3c" stroke="#fff" stroke-width="1.5" paint-order="stroke">BRACELETBOOK.COM</text>
</svg>
